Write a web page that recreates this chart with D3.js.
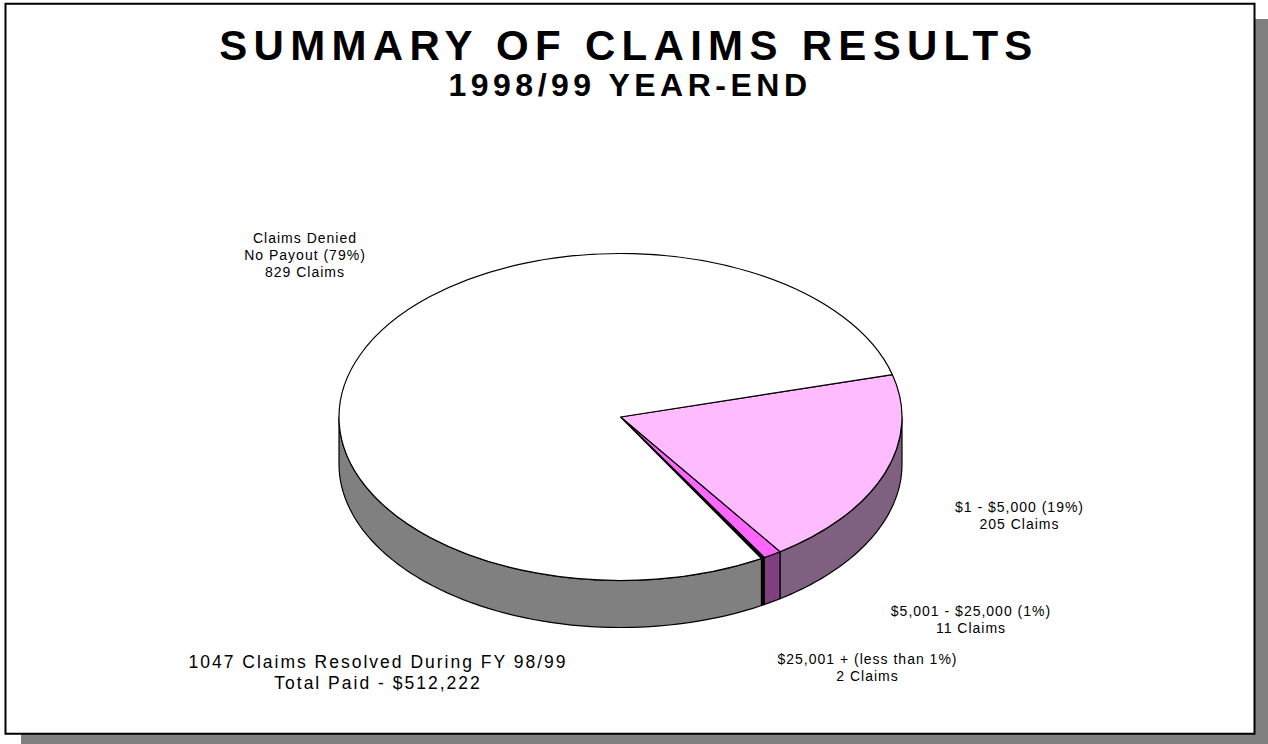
<!DOCTYPE html>
<html>
<head>
<meta charset="utf-8">
<style>
html, body { margin: 0; padding: 0; background: #fff; }
svg { display: block; }
text { font-family: "Liberation Sans", Arial, sans-serif; fill: #000; text-anchor: middle; }
</style>
<script src="https://cdn.jsdelivr.net/npm/d3@7"></script>
</head>
<body>
<svg id="chart" width="1268" height="744"></svg>
<script>
// Claim outcomes for the fiscal year, in the order they run clockwise round the pie.
const categories = ["$1 - $5,000", "$5,001 - $25,000", "$25,001 +", "No Payout"];
const claimCounts = [205, 11, 2, 829];
const topColors = ["#ffbbff", "#ff66ff", "#000000", "#ffffff"];
const wallColors = ["#806080", "#804080", "#000000", "#808080"];

const titleText = "SUMMARY OF CLAIMS RESULTS";
const subtitleText = "1998/99 YEAR-END";
const sliceLabels = [
  { lines: ["Claims Denied", "No Payout (79%)", "829 Claims"], x: 305, y: [243, 260, 277] },
  { lines: ["$1 - $5,000 (19%)", "205 Claims"], x: 1019.5, y: [512, 529] },
  { lines: ["$5,001 - $25,000 (1%)", "11 Claims"], x: 971, y: [616, 633] },
  { lines: ["$25,001 + (less than 1%)", "2 Claims"], x: 867.5, y: [664, 681] }
];
const summaryLines = ["1047 Claims Resolved During FY 98/99", "Total Paid - $512,222"];

const svg = d3.select("#chart");
const cx = 620.5, cy = 417, rx = 281.5, ry = 163.5, depth = 47;

// Drop shadow and frame of the slide.
svg.append("rect").attr("x", 21).attr("y", 19).attr("width", 1247).attr("height", 725).attr("fill", "#808080");
svg.append("rect").attr("x", 5.5).attr("y", 3.75).attr("width", 1249).attr("height", 730)
  .attr("fill", "#fff").attr("stroke", "#000").attr("stroke-width", 2);

// Titles.
svg.append("text").attr("x", 629).attr("y", 60)
  .attr("font-size", 42).attr("font-weight", "bold").attr("letter-spacing", 6.3).text(titleText);
svg.append("text").attr("x", 630).attr("y", 96)
  .attr("font-size", 32).attr("font-weight", "bold").attr("letter-spacing", 4.5).text(subtitleText);

// Pie layout, starting a little above the right-hand side of the ellipse.
const pie = d3.pie().sort(null).startAngle(75 * Math.PI / 180).endAngle(435 * Math.PI / 180);
const slices = pie(claimCounts);

const px = a => cx + rx * Math.sin(a);
const py = a => cy - ry * Math.cos(a);

// Side wall of a slice: only the part facing the viewer (3 o'clock to 9 o'clock) shows.
const rimLine = d3.line().x(d => d[0]).y(d => d[1]);
function wallPath(a0, a1) {
  const steps = d3.range(0, 61).map(i => a0 + (a1 - a0) * i / 60);
  const upper = steps.map(a => [px(a), py(a)]);
  const lower = steps.slice().reverse().map(a => [px(a), py(a) + depth]);
  return rimLine(upper.concat(lower)) + "Z";
}
const faceStart = Math.PI / 2, faceEnd = 3 * Math.PI / 2;
const walls = svg.append("g");
slices.forEach((s, i) => {
  const a0 = Math.max(s.startAngle, faceStart);
  const a1 = Math.min(s.endAngle, faceEnd);
  if (a1 > a0) {
    walls.append("path").attr("d", wallPath(a0, a1))
      .attr("fill", wallColors[i]).attr("stroke", "#000").attr("stroke-width", 1.2)
      .attr("stroke-linejoin", "round");
  }
});

// Top face: a circular pie squashed into an ellipse.
const arc = d3.arc().innerRadius(0).outerRadius(rx);
svg.append("g")
  .attr("transform", `translate(${cx},${cy}) scale(1,${ry / rx})`)
  .selectAll("path").data(slices).join("path")
  .attr("d", arc)
  .attr("fill", (d, i) => topColors[i])
  .attr("stroke", "#000").attr("stroke-width", 1.2)
  .attr("vector-effect", "non-scaling-stroke")
  .attr("stroke-linejoin", "round");

// Slice annotations.
sliceLabels.forEach(label => {
  label.lines.forEach((line, i) => {
    svg.append("text").attr("x", label.x).attr("y", label.y[i])
      .attr("font-size", 14).attr("letter-spacing", 1).text(line);
  });
});

// Totals at the bottom left.
summaryLines.forEach((line, i) => {
  svg.append("text").attr("x", 378).attr("y", 668 + i * 21)
    .attr("font-size", 17.5).attr("letter-spacing", 2).text(line);
});
</script>
</body>
</html>
